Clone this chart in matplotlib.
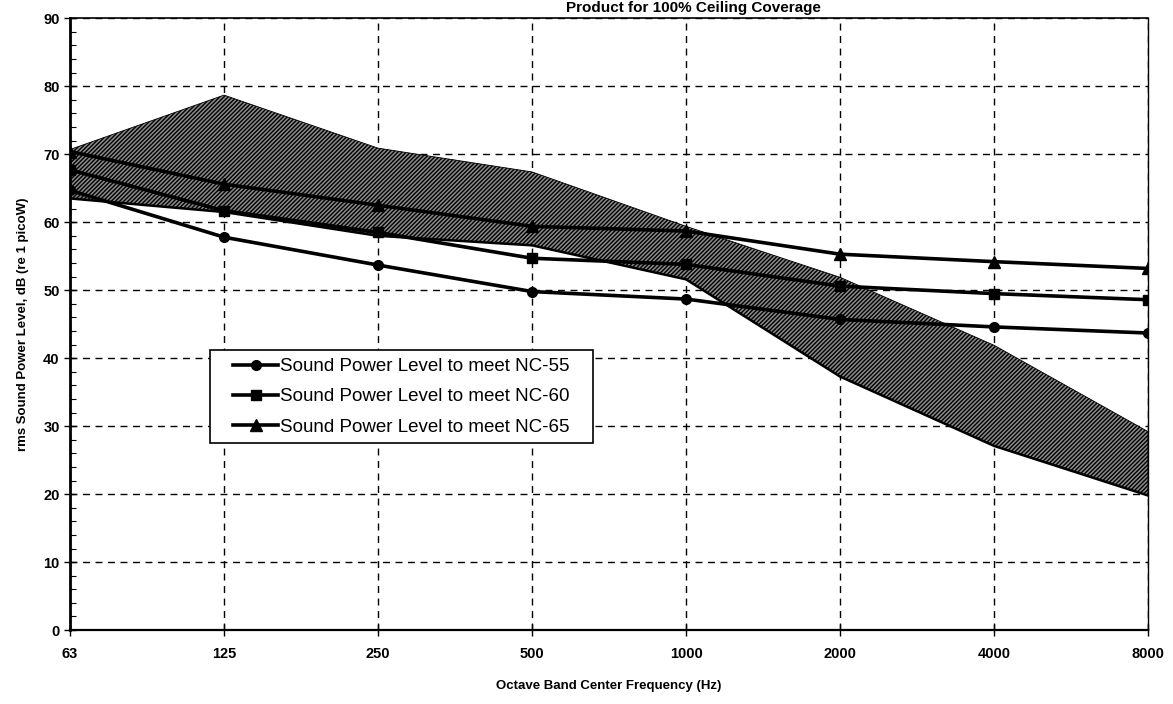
# -*- coding: utf-8 -*-
"""
Sound power level vs octave band frequency, with NC-55/60/65 targets
and the hatched product range band.
"""
import numpy as np
import matplotlib
matplotlib.use('Agg')
import matplotlib.pyplot as plt
import matplotlib.patches as mpatches
from matplotlib.ticker import MultipleLocator

# =============================================================================
# Data
# =============================================================================
freqs = ['63', '125', '250', '500', '1000', '2000', '4000', '8000']
nc55 = [64.7, 57.8, 53.7, 49.8, 48.7, 45.7, 44.6, 43.7]
nc60 = [67.7, 61.7, 58.5, 54.7, 53.8, 50.6, 49.5, 48.6]
nc65 = [70.4, 65.6, 62.5, 59.4, 58.7, 55.3, 54.2, 53.2]
band_upper = [70.7, 78.7, 70.9, 67.4, 59.4, 51.9, 41.9, 29.2]
band_lower = [63.5, 61.5, 58.0, 56.6, 51.6, 37.3, 27.1, 19.8]

# Global font style
plt.rcParams['font.family'] = ['Liberation Sans', 'DejaVu Sans']
plt.rcParams['hatch.linewidth'] = 1.0

W, H = 1173, 704
fig = plt.figure(figsize=(W / 100, H / 100), dpi=100)
ax = fig.add_axes([0.0597, 0.105, 0.919, 0.869])

x = np.arange(len(freqs))

# Hatched product band
ax.fill_between(x, band_lower, band_upper, facecolor='#8a8a8a',
                edgecolor='black', hatch='////////', linewidth=0.6, zorder=2)
ax.plot(x, band_lower, color='black', lw=1.8, zorder=2)

# NC curves
ax.plot(x, nc55, color='black', lw=2.6, marker='o', ms=7,
        label='Sound Power Level to meet NC-55', zorder=3)
ax.plot(x, nc60, color='black', lw=2.6, marker='s', ms=7,
        label='Sound Power Level to meet NC-60', zorder=3)
ax.plot(x, nc65, color='black', lw=2.6, marker='^', ms=8,
        label='Sound Power Level to meet NC-65', zorder=3)

# x-axis
ax.set_xlim(0, len(freqs) - 1)
ax.set_xticks(x)
ax.set_xticklabels(freqs, fontweight='bold', fontsize=10.5)
ax.tick_params(axis='x', direction='inout', length=8, width=1, pad=8)
ax.set_xlabel('Octave Band Center Frequency (Hz)', fontweight='bold',
              fontsize=9.5, labelpad=14)

# y-axis
ax.set_ylim(0, 90)
ax.yaxis.set_major_locator(MultipleLocator(10))
ax.yaxis.set_minor_locator(MultipleLocator(2))
ax.tick_params(axis='y', which='major', direction='inout', length=8,
               width=1, labelsize=10.5)
ax.tick_params(axis='y', which='minor', direction='in', length=4, width=0.8)
for lbl in ax.get_yticklabels():
    lbl.set_fontweight('bold')
ax.set_ylabel('rms Sound Power Level, dB (re 1 picoW)', fontweight='bold',
              fontsize=9.5, labelpad=10)

# Grid
ax.grid(True, which='major', color='black', linestyle=(0, (5, 4)),
        linewidth=1.0)
ax.set_axisbelow(True)

ax.spines['left'].set_linewidth(2.0)
ax.spines['bottom'].set_linewidth(1.6)
ax.spines['top'].set_linewidth(1.2)
ax.spines['right'].set_linewidth(1.0)

# Title (partly cut off in the scan)
fig.text(0.70, 0.999, 'Product for 100% Ceiling Coverage', ha='right',
         va='top', fontsize=11, fontweight='bold')

# Legend box drawn by hand so the padding matches the reference
box = mpatches.Rectangle((210 / W, 1 - 443 / H), 383 / W, 93 / H,
                         transform=fig.transFigure, facecolor='white',
                         edgecolor='black', linewidth=1.2, zorder=4.5,
                         clip_on=False)
ax.add_artist(box)
leg = ax.legend(loc='upper left', bbox_to_anchor=(233 / W, 1 - 358 / H),
                bbox_transform=fig.transFigure, borderaxespad=0,
                borderpad=0, fontsize=13.5, frameon=False,
                handlelength=2.4, handletextpad=0.1, labelspacing=0.7)
leg.set_zorder(5)

plt.savefig('out.png', dpi=100)
